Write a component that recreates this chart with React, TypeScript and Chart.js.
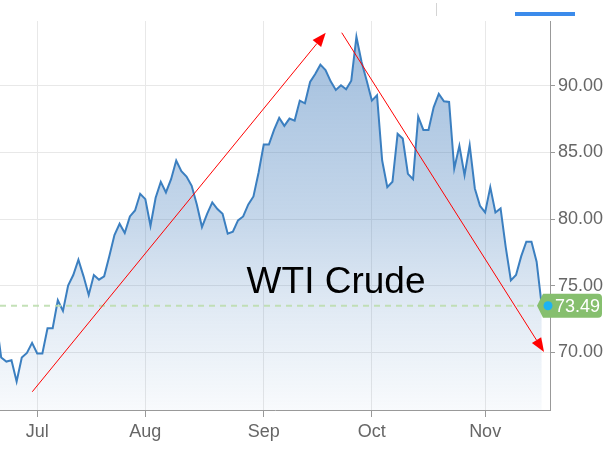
import React, { useEffect, useRef } from 'react';
import { Chart, registerables } from 'chart.js';

Chart.register(...registerables);

// One value per session (USD/bbl), late June through mid November
const lateJune = [72.5, 69.6, 69.3, 69.4, 67.8, 69.6, 69.95, 70.7];
const july = [69.9, 69.9, 71.8, 71.8, 73.9, 73.1, 75.0, 75.8, 76.95, 75.7, 74.3, 75.8, 75.45, 75.7, 77.2, 78.8, 79.65, 78.95, 80.2, 80.65, 81.9];
const august = [81.5, 79.5, 81.6, 82.8, 82.0, 83.0, 84.4, 83.6, 83.2, 82.5, 81.1, 79.4, 80.4, 81.25, 80.75, 80.4, 78.9, 79.05, 79.9, 80.2, 81.1, 81.7, 83.5];
const september = [85.6, 85.6, 86.7, 87.6, 87.0, 87.55, 87.4, 88.9, 88.7, 90.3, 90.9, 91.6, 91.2, 90.35, 89.7, 90.05, 89.75, 90.4, 93.7, 91.8, 90.4];
const october = [88.9, 89.3, 84.4, 82.4, 82.8, 86.4, 86.05, 83.4, 83.0, 87.7, 86.7, 86.7, 88.4, 89.4, 88.85, 88.8, 83.8, 85.5, 83.3, 85.55, 82.3, 81.0];
const november = [80.5, 82.4, 80.5, 80.8, 77.9, 75.4, 75.8, 77.2, 78.3, 78.3, 76.8, 73.49];

const monthLabels = ['Jul', 'Aug', 'Sep', 'Oct', 'Nov'];
const priceTicks = [70, 75, 80, 85, 90];
const lastPrice = 73.49;
const title = 'WTI Crude';
// annotations in data coordinates: [session index, price]
const upArrow = [[-0.96, 67.03], [56.04, 94.0]];
const downArrow = [[59.15, 94.0], [98.44, 70.02]];
const titleAnchor = [58.04, 74.45];

const monthSeries = [july, august, september, october, november];
const points: { x: number; y: number }[] = [];
lateJune.forEach((v, i) => points.push({ x: i - lateJune.length, y: v }));
const monthStarts: number[] = [];
let idx = 0;
monthSeries.forEach((m) => {
  monthStarts.push(idx);
  m.forEach((v) => {
    points.push({ x: idx, y: v });
    idx++;
  });
});

const FONT = '"Liberation Sans", Arial, sans-serif';

const overlay = {
  id: 'overlay',
  afterDatasetsDraw(chart: any) {
    const { ctx, chartArea, scales } = chart;
    const y = scales.y.getPixelForValue(lastPrice);
    ctx.save();
    ctx.strokeStyle = 'rgba(190,222,175,0.9)';
    ctx.lineWidth = 2;
    ctx.setLineDash([6, 5]);
    ctx.beginPath();
    ctx.moveTo(chartArea.left, y);
    ctx.lineTo(chartArea.right, y);
    ctx.stroke();
    ctx.restore();
  },
  afterDraw(chart: any) {
    const { ctx, chartArea, scales } = chart;
    const px = (p: number[]) => [scales.x.getPixelForValue(p[0]), scales.y.getPixelForValue(p[1])];
    const drawArrow = (seg: number[][]) => {
      const [x1, y1] = px(seg[0]);
      const [x2, y2] = px(seg[1]);
      const ang = Math.atan2(y2 - y1, x2 - x1);
      const len = 14;
      const hw = 5.5;
      const bx = x2 - Math.cos(ang) * len;
      const by = y2 - Math.sin(ang) * len;
      ctx.save();
      ctx.strokeStyle = '#ff0000';
      ctx.fillStyle = '#ff0000';
      ctx.lineWidth = 1;
      ctx.beginPath();
      ctx.moveTo(x1, y1);
      ctx.lineTo(bx, by);
      ctx.stroke();
      ctx.beginPath();
      ctx.moveTo(x2, y2);
      ctx.lineTo(bx + Math.sin(ang) * hw, by - Math.cos(ang) * hw);
      ctx.lineTo(bx - Math.sin(ang) * hw, by + Math.cos(ang) * hw);
      ctx.closePath();
      ctx.fill();
      ctx.restore();
    };
    drawArrow(upArrow);
    drawArrow(downArrow);

    const [tx, ty] = px(titleAnchor);
    ctx.save();
    ctx.fillStyle = '#000';
    ctx.font = `37px ${FONT}`;
    ctx.textAlign = 'center';
    ctx.textBaseline = 'alphabetic';
    ctx.fillText(title, tx, ty);
    ctx.restore();

    // last price tag
    const yp = scales.y.getPixelForValue(lastPrice);
    const r = chartArea.right;
    const bodyL = r - 7;
    const bodyR = r + 52;
    const h = 24;
    const top = yp - h / 2;
    ctx.save();
    ctx.fillStyle = '#86bf6e';
    ctx.beginPath();
    ctx.moveTo(r - 13, yp);
    ctx.lineTo(bodyL, top);
    ctx.lineTo(bodyR - 4, top);
    ctx.quadraticCurveTo(bodyR, top, bodyR, top + 4);
    ctx.lineTo(bodyR, top + h - 4);
    ctx.quadraticCurveTo(bodyR, top + h, bodyR - 4, top + h);
    ctx.lineTo(bodyL, top + h);
    ctx.closePath();
    ctx.fill();
    ctx.fillStyle = '#1db3f3';
    ctx.beginPath();
    ctx.arc(r - 2, yp, 4.5, 0, Math.PI * 2);
    ctx.fill();
    ctx.fillStyle = '#ffffff';
    ctx.font = `18px ${FONT}`;
    ctx.textAlign = 'left';
    ctx.textBaseline = 'middle';
    ctx.fillText(lastPrice.toFixed(2), r + 5, yp + 1);
    ctx.restore();
  },
};

export default function App() {
  const ref = useRef<HTMLCanvasElement>(null);
  useEffect(() => {
    if (!ref.current) return;
    const chart = new Chart(ref.current, {
      type: 'line',
      data: {
        datasets: [
          {
            data: points,
            borderColor: '#3b7fc0',
            borderWidth: 2,
            pointRadius: 0,
            tension: 0,
            fill: 'start',
            backgroundColor: (c: any) => {
              const { chart: ch } = c;
              const area = ch.chartArea;
              if (!area) return 'rgba(60,120,185,0.3)';
              const g = ch.ctx.createLinearGradient(0, area.top, 0, area.bottom);
              g.addColorStop(0, 'rgba(60,120,185,0.49)');
              g.addColorStop(0.5, 'rgba(60,120,185,0.30)');
              g.addColorStop(0.75, 'rgba(60,120,185,0.15)');
              g.addColorStop(1, 'rgba(60,120,185,0.035)');
              return g;
            },
          },
        ],
      },
      options: {
        responsive: false,
        animation: false,
        layout: { padding: { top: 21, left: 0, right: 0, bottom: 0 } },
        plugins: { legend: { display: false }, tooltip: { enabled: false } },
        scales: {
          x: {
            type: 'linear',
            min: -7.23,
            max: 99.6,
            afterBuildTicks: (s: any) => {
              s.ticks = monthStarts.map((v) => ({ value: v }));
            },
            afterFit: (s: any) => {
              s.height = 43;
              s.paddingLeft = 0;
              s.paddingRight = 0;
            },
            ticks: {
              autoSkip: false,
              maxRotation: 0,
              color: '#666',
              padding: 4,
              font: { family: FONT, size: 18 },
              callback: (v: any) => monthLabels[monthStarts.indexOf(Number(v))] ?? '',
            },
            grid: { color: '#e8e8e8', tickColor: '#999', tickLength: 7 },
            border: { color: '#999', width: 1 },
          },
          y: {
            position: 'right',
            min: 65.66,
            max: 94.88,
            afterBuildTicks: (s: any) => {
              s.ticks = priceTicks.map((v) => ({ value: v }));
            },
            afterFit: (s: any) => {
              s.width = 61;
              s.paddingTop = 0;
              s.paddingBottom = 0;
            },
            ticks: {
              color: '#666',
              padding: 3,
              font: { family: FONT, size: 18 },
              callback: (v: any) => Number(v).toFixed(2),
            },
            grid: { color: '#e8e8e8', tickColor: '#999', tickLength: 5 },
            border: { color: '#999', width: 1 },
          },
        },
      },
      plugins: [overlay],
    } as any);
    return () => chart.destroy();
  }, []);

  return (
    <div style={{ position: 'fixed', left: 0, top: 0, width: 611, height: 453, background: '#fff' }}>
      <canvas ref={ref} width={611} height={453} style={{ display: 'block' }} />
      <div style={{ position: 'absolute', left: 436, top: 3, width: 1, height: 13, background: '#d4d4d4' }} />
      <div style={{ position: 'absolute', left: 515, top: 12, width: 60, height: 4, background: '#3b8beb' }} />
    </div>
  );
}
